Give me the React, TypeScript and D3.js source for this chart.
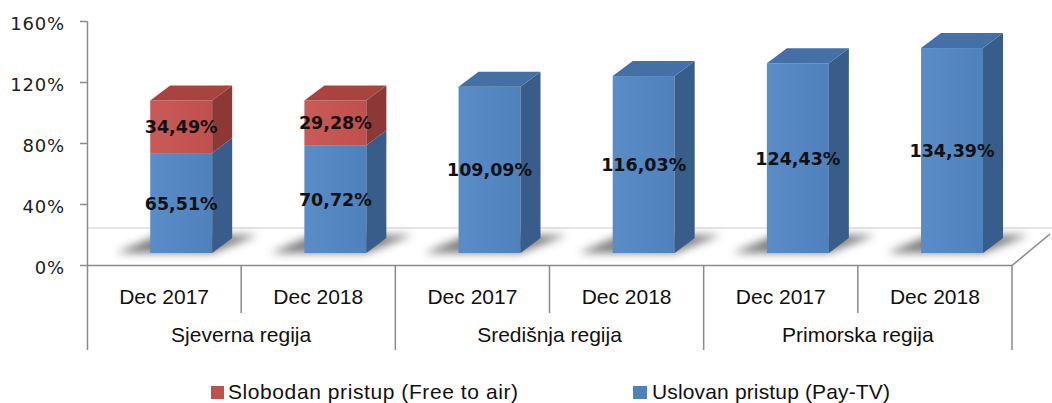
import React from 'react';
import * as d3 from 'd3';

const regions = ['Sjeverna regija', 'Središnja regija', 'Primorska regija'];
const periods = ['Dec 2017', 'Dec 2018'];
const payTv = [65.51, 70.72, 109.09, 116.03, 124.43, 134.39];
const freeToAir = [34.49, 29.28, 0, 0, 0, 0];
const yTicks = [0, 40, 80, 120, 160];
const seriesNames = ['Uslovan pristup (Pay-TV)', 'Slobodan pristup (Free to air)'];

const W = 1052;
const H = 403;

const colors = {
  pay: { front: '#4F81BD', top: '#4570A6', side: '#385D8A', light: '#5A8CC7' },
  free: { front: '#C0504D', top: '#A8433F', side: '#8C3836', light: '#C85B58' },
};

const fmt = (v: number) => v.toFixed(2).replace('.', ',') + '%';

export default function App() {
  const cats = regions.flatMap((r) => periods.map((p) => `${r}|${p}`));
  const rows = cats.map((c, i) => ({ cat: c, pay: payTv[i], free: freeToAir[i] }));
  const stack = d3.stack<any>().keys(['pay', 'free'])(rows);

  const x = d3.scaleBand().domain(cats).range([87, 1012]).padding(0);
  const step = x.step();
  const y = d3.scaleLinear().domain([0, 160]).range([265.5, 21.5]);
  // bars stand on the floor, a bit behind the front edge
  const floorOff = 12.5;
  const yb = (v: number) => y(v) - floorOff;
  const dx = 20;
  const dy = 15;
  const barW = step * 0.402;
  const barOff = step * 0.41;

  const groupX = d3.scaleBand().domain(regions).range([87, 1012]);

  const axisColor = '#8a8a8a';

  return (
    <svg width={W} height={H} style={{ position: 'fixed', left: 0, top: 0, background: '#fff' }}>
      <defs>
        <filter id="blur" x="-50%" y="-50%" width="200%" height="200%">
          <feGaussianBlur stdDeviation="4" />
        </filter>
        <linearGradient id="gPay" x1="0" x2="1" y1="0" y2="0">
          <stop offset="0" stopColor={colors.pay.light} />
          <stop offset="1" stopColor={colors.pay.front} />
        </linearGradient>
        <linearGradient id="gFree" x1="0" x2="1" y1="0" y2="0">
          <stop offset="0" stopColor={colors.free.light} />
          <stop offset="1" stopColor={colors.free.front} />
        </linearGradient>
      </defs>

      {/* floor */}
      <line x1={88} x2={1052} y1={228} y2={228} stroke="#dcdcdc" strokeWidth={1.5} />
      <line x1={1012} y1={265.5} x2={1050} y2={234} stroke={axisColor} strokeWidth={1.5} />

      {/* shadows */}
      {cats.map((c) => {
        const bx = (x(c) as number) + barOff;
        const base = yb(0);
        const pts = [
          [bx - 34, base],
          [bx + barW, base],
          [bx + barW + dx + 26, base - dy - 3],
          [bx + dx - 12, base - dy - 3],
        ];
        return (
          <polygon key={'s' + c} points={pts.map((p) => p.join(',')).join(' ')} fill="#5e5e5e" opacity={0.8} filter="url(#blur)" />
        );
      })}

      {/* bars */}
      {cats.map((c, i) => {
        const bx = (x(c) as number) + barOff;
        const segs = stack.filter((s) => s[i][1] - s[i][0] > 0);
        return (
          <g key={'b' + c}>
            {segs.map((s, k) => {
              const col = s.key === 'pay' ? colors.pay : colors.free;
              const y0 = yb(s[i][0]);
              const y1 = yb(s[i][1]);
              const side = [
                [bx + barW, y1],
                [bx + barW + dx, y1 - dy],
                [bx + barW + dx, y0 - dy],
                [bx + barW, y0],
              ];
              const isTop = k === segs.length - 1;
              const top = [
                [bx, y1],
                [bx + dx, y1 - dy],
                [bx + barW + dx, y1 - dy],
                [bx + barW, y1],
              ];
              return (
                <g key={s.key}>
                  <rect x={bx} y={y1} width={barW} height={y0 - y1} fill={s.key === 'pay' ? 'url(#gPay)' : 'url(#gFree)'} />
                  <polygon points={side.map((p) => p.join(',')).join(' ')} fill={col.side} />
                  {isTop && <polygon points={top.map((p) => p.join(',')).join(' ')} fill={col.top} />}
                </g>
              );
            })}
          </g>
        );
      })}

      {/* value labels */}
      {cats.map((c, i) => {
        const cx = (x(c) as number) + barOff + barW / 2;
        return stack
          .filter((s) => s[i][1] - s[i][0] > 0)
          .map((s) => (
            <text
              key={'l' + c + s.key}
              x={cx}
              y={(yb(s[i][0]) + yb(s[i][1])) / 2}
              dy="0.38em"
              textAnchor="middle"
              fontFamily="DejaVu Sans, Verdana, sans-serif"
              fontWeight="bold"
              fontSize={17.5}
              fill="#111"
            >
              {fmt(s[i][1] - s[i][0])}
            </text>
          ));
      })}

      {/* y axis */}
      <line x1={87.5} x2={87.5} y1={y(160)} y2={350} stroke={axisColor} strokeWidth={1.5} />
      {yTicks.map((t) => (
        <g key={'t' + t}>
          <line x1={80} x2={87.5} y1={y(t)} y2={y(t)} stroke={axisColor} strokeWidth={1.5} />
          <text
            x={65}
            y={y(t)}
            dy="0.45em"
            textAnchor="end"
            fontFamily="DejaVu Sans, Verdana, sans-serif"
            fontSize={18}
            letterSpacing={0.8}
            fill="#222"
          >
            {t}%
          </text>
        </g>
      ))}

      {/* category axis */}
      <line x1={87} x2={1012} y1={265.5} y2={265.5} stroke={axisColor} strokeWidth={1.5} />
      {cats.map((c, i) => {
        const x0 = x(c) as number;
        const isGroupEnd = i % periods.length === periods.length - 1;
        return (
          <g key={'c' + c}>
            <line
              x1={x0 + step}
              x2={x0 + step}
              y1={265.5}
              y2={isGroupEnd ? 350 : 313}
              stroke={axisColor}
              strokeWidth={1.5}
            />
            <text
              x={x0 + step / 2}
              y={304}
              textAnchor="middle"
              fontFamily="Liberation Sans, Arial, sans-serif"
              fontSize={21}
              fill="#111"
            >
              {c.split('|')[1]}
            </text>
          </g>
        );
      })}
      {regions.map((r) => (
        <text
          key={'r' + r}
          x={(groupX(r) as number) + groupX.bandwidth() / 2}
          y={342}
          textAnchor="middle"
          fontFamily="Liberation Sans, Arial, sans-serif"
          fontSize={21}
          fill="#111"
        >
          {r}
        </text>
      ))}

      {/* legend */}
      <rect x={211} y={386} width={13} height={13} fill={colors.free.front} />
      <text x={228} y={399} fontFamily="Liberation Sans, Arial, sans-serif" fontSize={21} fill="#111" textLength={290}>
        {seriesNames[1]}
      </text>
      <rect x={633} y={386} width={14} height={13} fill={colors.pay.front} />
      <text x={652} y={399} fontFamily="Liberation Sans, Arial, sans-serif" fontSize={21} fill="#111" textLength={238}>
        {seriesNames[0]}
      </text>
    </svg>
  );
}
